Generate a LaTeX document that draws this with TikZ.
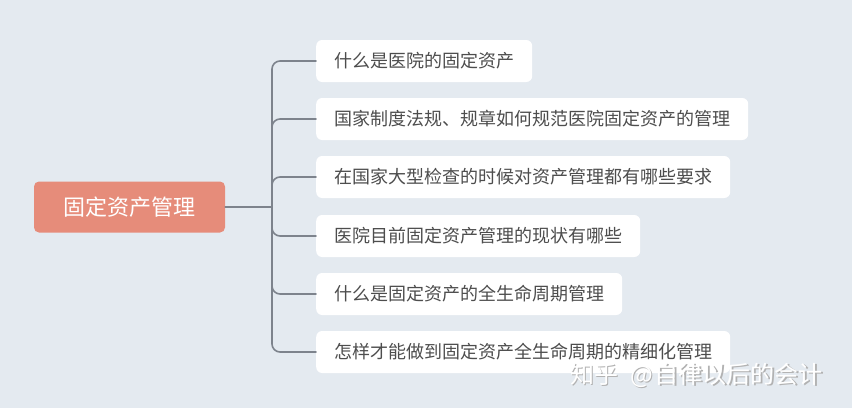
\documentclass[tikz,border=0pt]{standalone}
\usepackage{fontspec}
\setmainfont{Noto Sans CJK SC}
\definecolor{bg}{HTML}{E4EAF0}
\definecolor{rootfill}{HTML}{E68C7A}
\definecolor{linegray}{HTML}{7D838C}
\definecolor{txtgray}{HTML}{4D4D4D}
\begin{document}
\begin{tikzpicture}[x=1pt, y=-1pt, line join=round, line cap=round,
	rootbox/.style={fill=rootfill, text=white, rounded corners=5pt, minimum width=191pt, minimum height=51pt, font=\fontsize{22}{22}\selectfont},
	topic/.style={fill=white, text=txtgray, rounded corners=6pt, anchor=west, minimum height=42pt, inner xsep=18pt, font=\fontsize{18}{18}\selectfont},
	branch/.style={draw=linegray, line width=1.6pt},
	watermark/.style={anchor=west, inner sep=0pt, font=\fontsize{24}{24}\selectfont}]
		\useasboundingbox (0,0) rectangle (852,408);
		\fill[bg] (0,0) rectangle (852,408);
		\path
		(129.5,207) node[rootbox] (root) {固定资产管理}
		(272,207) coordinate (hub);
		\foreach \y/\t [count=\i] in {61/什么是医院的固定资产,
			119/国家制度法规、规章如何规范医院固定资产的管理,
			177/在国家大型检查的时候对资产管理都有哪些要求,
			236/医院目前固定资产管理的现状有哪些,
			294/什么是固定资产的全生命周期管理,
			352/怎样才能做到固定资产全生命周期的精细化管理}
		{
			\node[topic] (t\i) at (316,\y) {\t};
			\draw[branch, rounded corners=8pt] (hub) |- (t\i.west);
		}
		\draw[branch] (root.east) -- (hub);
		% watermark
		\node[watermark, text=gray!60] at (571.2,376.2) {知乎\hspace{12pt}@\hspace{2pt}自律以后的会计};
		\node[watermark, text=white] (wm) at (570,375) {知乎\hspace{12pt}@\hspace{2pt}自律以后的会计};
	\end{tikzpicture}
\end{document}
